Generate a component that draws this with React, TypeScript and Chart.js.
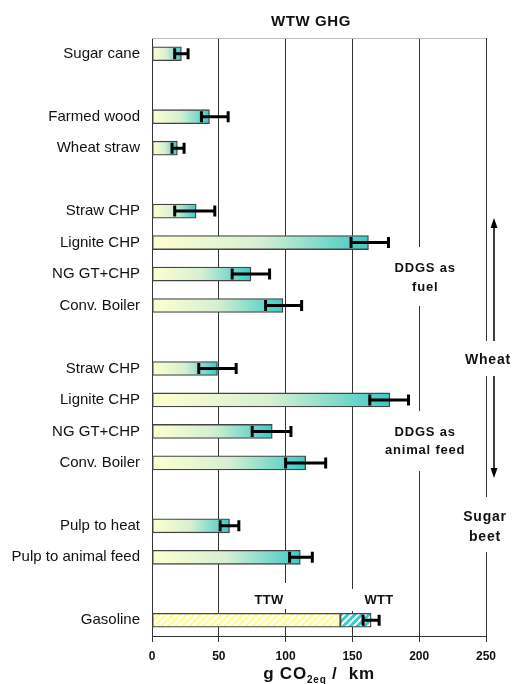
import React, { useEffect, useRef } from "react";
import { Chart, registerables } from "chart.js";

Chart.register(...registerables);

const categories = [
  "Sugar cane", "", "Farmed wood", "Wheat straw", "",
  "Straw CHP", "Lignite CHP", "NG GT+CHP", "Conv. Boiler", "",
  "Straw CHP", "Lignite CHP", "NG GT+CHP", "Conv. Boiler", "",
  "Pulp to heat", "Pulp to animal feed", "", "Gasoline",
];
const mainValues = [22, null, 43, 19, null, 33, 162, 74, 98, null, 49, 178, 90, 115, null, 58, 111, null, 141];
const wttValues = [null, null, null, null, null, null, null, null, null, null, null, null, null, null, null, null, null, null, 23];
const errLow = [17, null, 37, 15, null, 17, 149, 60, 85, null, 35, 163, 75, 100, null, 51, 103, null, 158];
const errHigh = [27, null, 57, 24, null, 47, 177, 88, 112, null, 63, 192, 104, 130, null, 65, 120, null, 170];
const xTicks = [0, 50, 100, 150, 200, 250];
const gasolineIndex = 18;

const FONT = "'Liberation Sans', Arial, sans-serif";

function makeHatch(base: string): CanvasPattern | string {
  const s = 7;
  const cv = document.createElement("canvas");
  cv.width = s;
  cv.height = s;
  const c = cv.getContext("2d");
  if (!c) return base;
  c.fillStyle = base;
  c.fillRect(0, 0, s, s);
  c.strokeStyle = "#ffffff";
  c.lineWidth = 2;
  c.beginPath();
  c.moveTo(-1, s + 1); c.lineTo(s + 1, -1);
  c.moveTo(-s / 2 - 1, s / 2 + 1); c.lineTo(s / 2 + 1, -s / 2 - 1);
  c.moveTo(s / 2 - 1, s * 1.5 + 1); c.lineTo(s * 1.5 + 1, s / 2 - 1);
  c.stroke();
  return c.createPattern(cv, "repeat") || base;
}

export default function App() {
  const ref = useRef<HTMLCanvasElement | null>(null);

  useEffect(() => {
    document.body.style.margin = "0";
    const canvas = ref.current;
    if (!canvas) return;
    const yellowHatch = makeHatch("#ffff99");
    const tealHatch = makeHatch("#33cccc");

    const whiteBox = (ctx: CanvasRenderingContext2D, x: number, y0: number, y1: number) => {
      ctx.fillStyle = "#ffffff";
      ctx.fillRect(x - 3, y0, 6, y1 - y0);
    };

    const overlay = {
      id: "overlay",
      afterDatasetsDraw(chart: any) {
        const { ctx, scales } = chart;
        const xs = scales.x;
        const ys = scales.y;
        ctx.save();
        ctx.strokeStyle = "#000";
        ctx.lineWidth = 3;
        for (let i = 0; i < categories.length; i++) {
          const lo = errLow[i];
          const hi = errHigh[i];
          if (lo == null || hi == null) continue;
          const y = ys.getPixelForValue(i);
          const xl = xs.getPixelForValue(lo);
          const xh = xs.getPixelForValue(hi);
          ctx.beginPath();
          ctx.moveTo(xl, y); ctx.lineTo(xh, y);
          ctx.moveTo(xl, y - 5.5); ctx.lineTo(xl, y + 5.5);
          ctx.moveTo(xh, y - 5.5); ctx.lineTo(xh, y + 5.5);
          ctx.stroke();
        }
        ctx.restore();
      },
      afterDraw(chart: any) {
        const { ctx, scales, chartArea } = chart;
        const xs = scales.x;
        ctx.save();
        // top border
        ctx.strokeStyle = "#bbbbbb";
        ctx.lineWidth = 1;
        ctx.beginPath();
        ctx.moveTo(chartArea.left, chartArea.top + 0.5);
        ctx.lineTo(chartArea.right, chartArea.top + 0.5);
        ctx.stroke();

        const g100 = xs.getPixelForValue(100);
        const g150 = xs.getPixelForValue(150);
        const g200 = xs.getPixelForValue(200);
        const g250 = xs.getPixelForValue(250);
        whiteBox(ctx, g200, 247, 306);
        whiteBox(ctx, g200, 411, 471);
        whiteBox(ctx, g250, 341, 376);
        whiteBox(ctx, g250, 497, 552);
        whiteBox(ctx, g100, 583, 609);
        whiteBox(ctx, g150, 589, 611);

        ctx.fillStyle = "#111";
        ctx.textAlign = "center";
        ctx.textBaseline = "middle";
        (ctx as any).letterSpacing = "0.6px";
        // title
        ctx.font = `bold 15px ${FONT}`;
        ctx.fillText("WTW GHG", 311, 22);

        ctx.font = `bold 13px ${FONT}`;
        (ctx as any).letterSpacing = "0.8px";
        ctx.fillText("DDGS as", g200 + 6, 268);
        ctx.fillText("fuel", g200 + 6, 287);
        ctx.fillText("DDGS as", g200 + 6, 432);
        ctx.fillText("animal feed", g200 + 6, 450);
        (ctx as any).letterSpacing = "0.3px";
        ctx.fillText("TTW", 269, 600);
        ctx.fillText("WTT", 379, 600);
        (ctx as any).letterSpacing = "0.8px";
        ctx.font = `bold 14px ${FONT}`;
        ctx.fillText("Wheat", 488, 360);
        ctx.fillText("Sugar", 485, 517);
        ctx.fillText("beet", 485, 537);
        (ctx as any).letterSpacing = "0px";

        // arrows
        const ax = 494;
        ctx.strokeStyle = "#000";
        ctx.fillStyle = "#000";
        ctx.lineWidth = 1.5;
        ctx.beginPath();
        ctx.moveTo(ax, 226); ctx.lineTo(ax, 341);
        ctx.moveTo(ax, 376); ctx.lineTo(ax, 470);
        ctx.stroke();
        ctx.beginPath();
        ctx.moveTo(ax, 218); ctx.lineTo(ax - 3.5, 228); ctx.lineTo(ax + 3.5, 228); ctx.closePath();
        ctx.fill();
        ctx.beginPath();
        ctx.moveTo(ax, 478); ctx.lineTo(ax - 3.5, 468); ctx.lineTo(ax + 3.5, 468); ctx.closePath();
        ctx.fill();

        // axis title with subscript
        const cx = (chartArea.left + chartArea.right) / 2;
        const ty = 674;
        const p1 = "g CO";
        const p2 = "2eq";
        const p3 = " /  km";
        ctx.textAlign = "left";
        ctx.textBaseline = "alphabetic";
        (ctx as any).letterSpacing = "0.8px";
        ctx.font = `bold 17px ${FONT}`;
        const w1 = ctx.measureText(p1).width;
        const w3 = ctx.measureText(p3).width;
        ctx.font = `bold 10px ${FONT}`;
        const w2 = ctx.measureText(p2).width;
        let x = cx - (w1 + w2 + w3) / 2;
        ctx.fillStyle = "#111";
        ctx.font = `bold 17px ${FONT}`;
        ctx.fillText(p1, x, ty + 5);
        x += w1;
        ctx.font = `bold 10px ${FONT}`;
        ctx.fillText(p2, x, ty + 9);
        x += w2;
        ctx.font = `bold 17px ${FONT}`;
        ctx.fillText(p3, x, ty + 5);
        (ctx as any).letterSpacing = "0px";
        ctx.restore();
      },
    };

    const chart = new Chart(canvas, {
      type: "bar",
      data: {
        labels: categories,
        datasets: [
          {
            label: "main",
            data: mainValues as any,
            backgroundColor: (c: any) => {
              const ch = c.chart;
              const area = ch.chartArea;
              if (c.dataIndex === gasolineIndex) return yellowHatch;
              if (!area || c.raw == null) return "#ffffd0";
              const xs = ch.scales.x;
              const x0 = xs.getPixelForValue(0);
              const x1 = xs.getPixelForValue(c.raw);
              const g = ch.ctx.createLinearGradient(x0, 0, x1, 0);
              g.addColorStop(0, "#ffffd0");
              g.addColorStop(0.5, "#d6efd2");
              g.addColorStop(1, "#3ccac6");
              return g;
            },
            borderColor: "#444444",
            borderWidth: 1.3,
            borderSkipped: false,
            barThickness: 14,
            stack: "s",
          } as any,
          {
            label: "wtt",
            data: wttValues as any,
            backgroundColor: tealHatch as any,
            borderColor: "#444444",
            borderWidth: 1.3,
            borderSkipped: false,
            barThickness: 14,
            stack: "s",
          } as any,
        ],
      },
      options: {
        indexAxis: "y",
        animation: false,
        responsive: false,
        maintainAspectRatio: false,
        layout: { padding: { top: 38, right: 26, bottom: 0, left: 0 } },
        plugins: {
          legend: { display: false },
          tooltip: { enabled: false },
          title: { display: false },
        },
        scales: {
          x: {
            type: "linear",
            stacked: true,
            min: 0,
            max: 250,
            afterBuildTicks: (s: any) => {
              s.ticks = xTicks.map((v) => ({ value: v }));
            },
            afterFit: (s: any) => {
              s.height = 48;
            },
            grid: {
              color: "#333333",
              lineWidth: 1,
              drawTicks: true,
              tickLength: 6,
            },
            border: { display: true, color: "#333333" },
            ticks: {
              color: "#111",
              font: { family: FONT, size: 12, weight: "bold" },
              padding: 7,
            },
          },
          y: {
            type: "category",
            stacked: true,
            afterFit: (s: any) => {
              s.width = 152;
            },
            grid: { display: false, drawTicks: false },
            border: { display: true, color: "#333333" },
            ticks: {
              color: "#111",
              font: { family: FONT, size: 15 },
              padding: 12,
              autoSkip: false,
            },
          },
        },
      } as any,
      plugins: [overlay],
    });
    return () => chart.destroy();
  }, []);

  return (
    <div style={{ width: 512, height: 684, position: "relative" }}>
      <canvas ref={ref} width={512} height={684} style={{ display: "block" }} />
    </div>
  );
}
